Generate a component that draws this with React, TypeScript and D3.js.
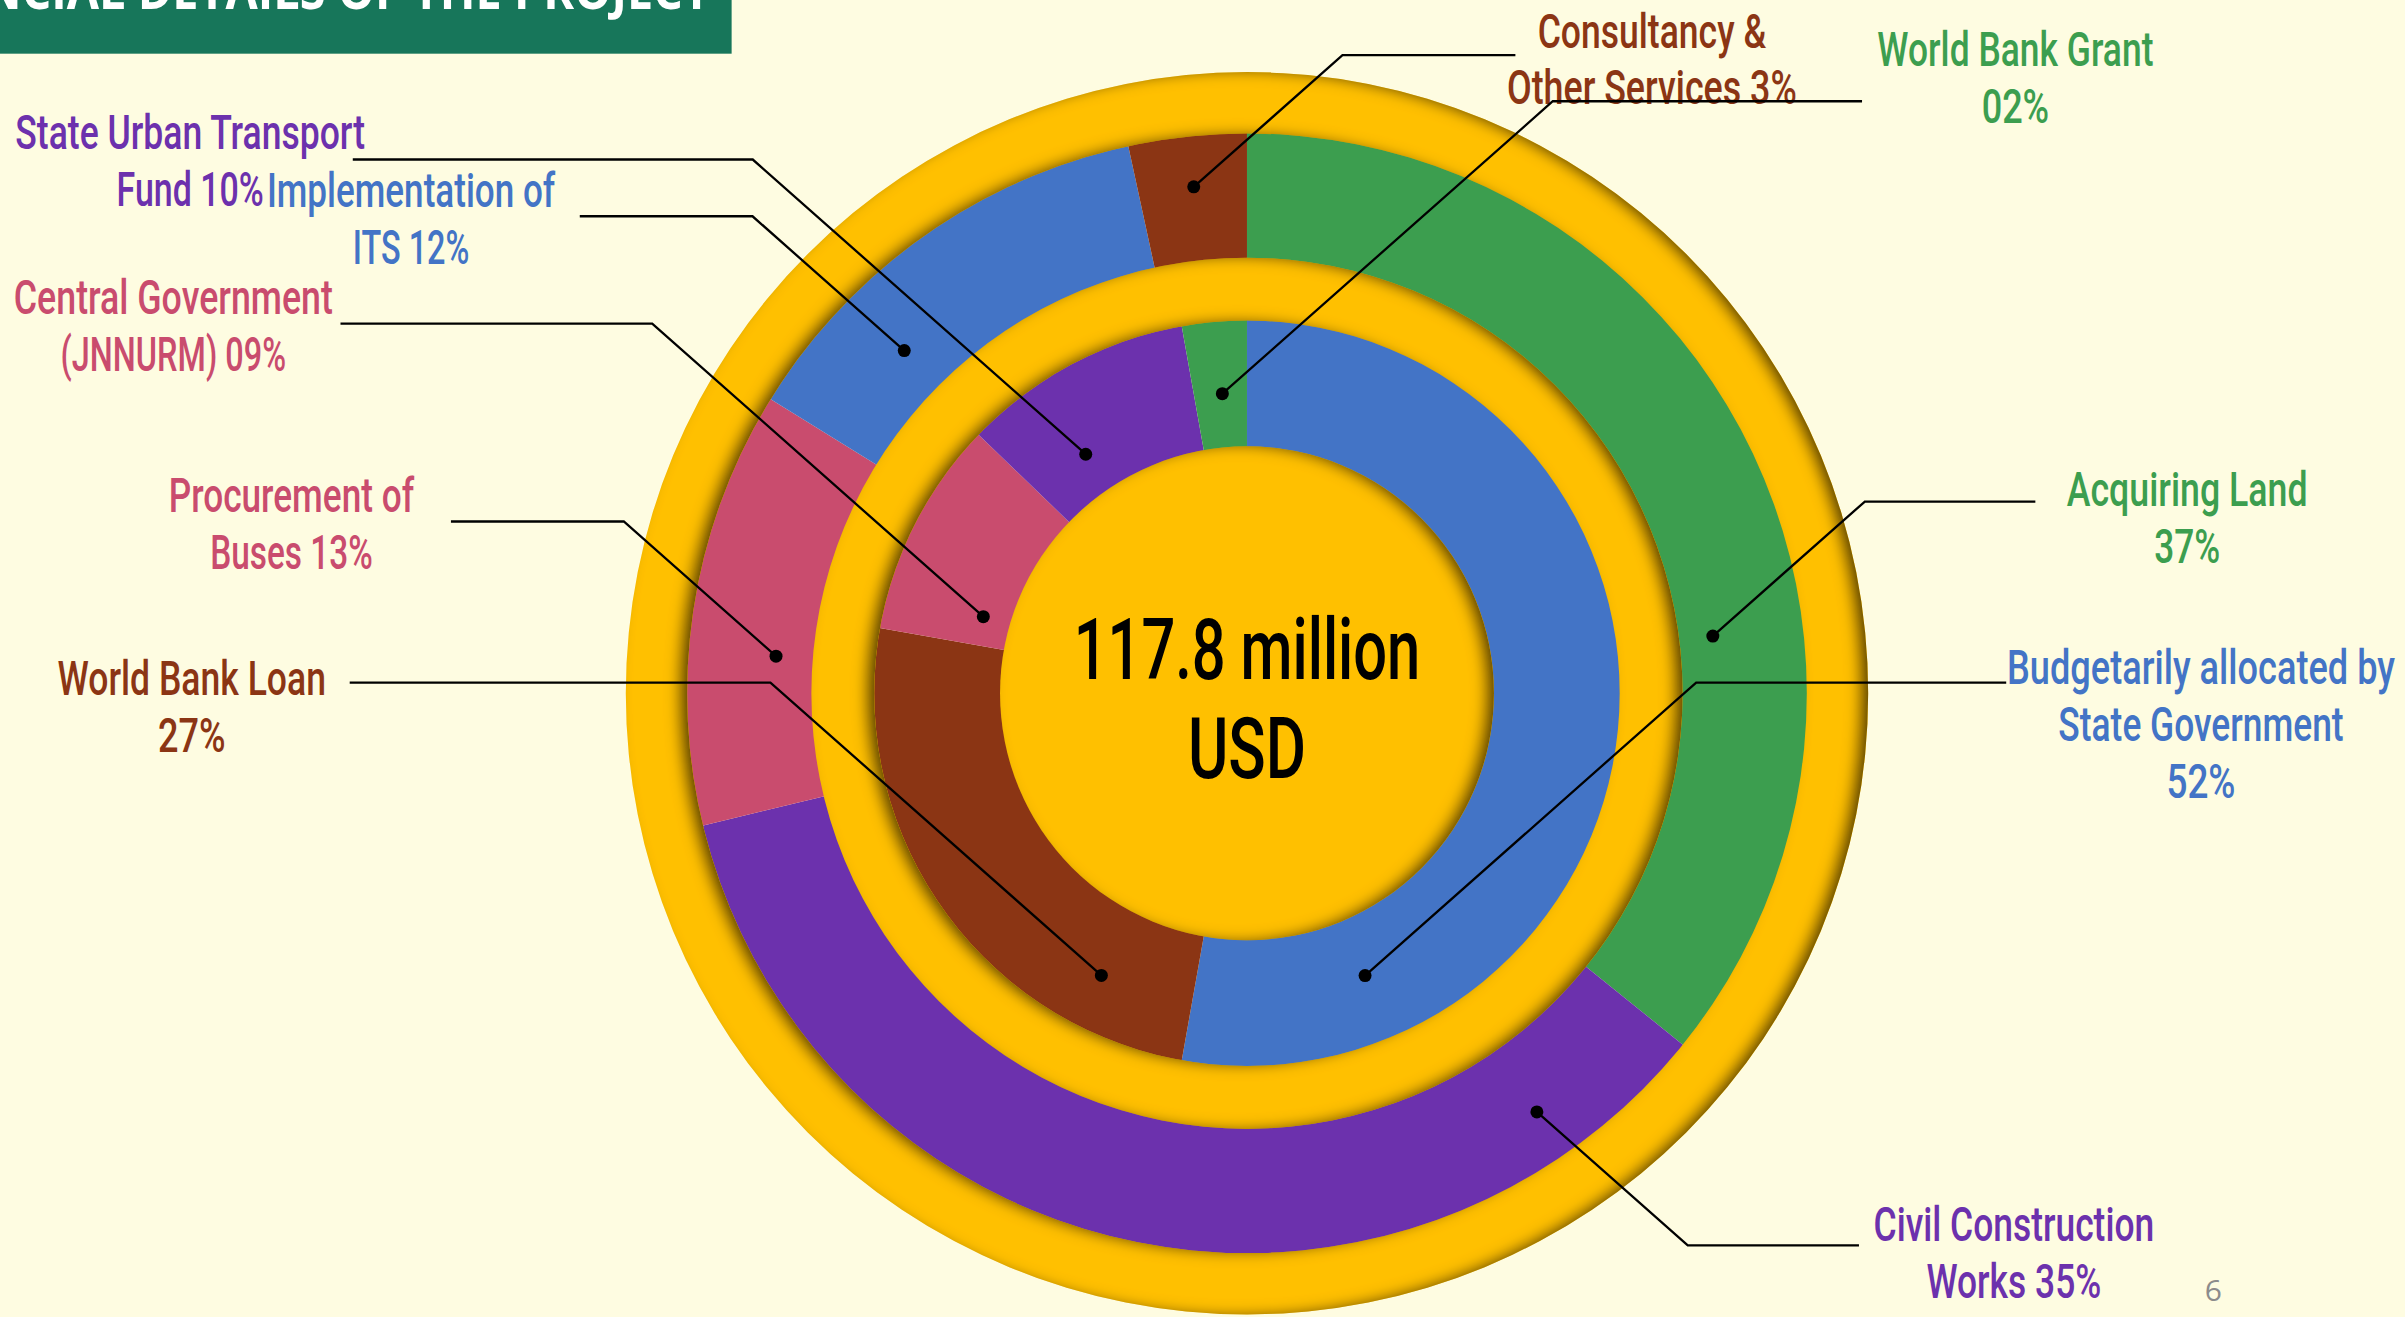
import React from "react";
import * as d3 from "d3";

// ---------- DATA ----------
// Outer ring: uses of the funds (shares)
const useCategories = [
  "Acquiring Land",
  "Civil Construction Works",
  "Procurement of Buses",
  "Implementation of ITS",
  "Consultancy & Other Services",
];
const useShares = [35.8, 35.4, 12.6, 12.8, 3.4];
const usePercentLabels = ["37%", "35%", "13%", "12%", "3%"];

// Inner ring: sources of the funds
const sourceCategories = [
  "Budgetarily allocated by State Government",
  "World Bank Loan",
  "Central Government (JNNURM)",
  "State Urban Transport Fund",
  "World Bank Grant",
];
const sourceShares = [52.8, 25.0, 9.4, 10.0, 2.8];
const sourcePercentLabels = ["52%", "27%", "09%", "10%", "02%"];

const totalLines = ["117.8 million", "USD"];
const headerTitle = "FINANCIAL DETAILS OF THE PROJECT";
const pageNumber = "6";

// ---------- STYLE ----------
const GREEN = "#3C9E4F";
const PURPLE = "#6C31AD";
const PINK = "#C94C6E";
const BLUE = "#4374C6";
const BROWN = "#8B3514";
const GOLD = "#FFC000";
const useColors = [GREEN, PURPLE, PINK, BLUE, BROWN];
const sourceColors = [BLUE, BROWN, PINK, PURPLE, GREEN];
const BG = "#FEFCE1";

const W = 2405;
const H = 1317;
const k = 2405 / 1568; // layout measured on the preview, scaled to the page

type Ann = {
  ring: "use" | "src";
  idx: number;
  angle: number;
  r: number;
  lineY: number;
  endX: number;
  tx: number;
  b0: number;
  words: number[];
  widths: number[];
};
const annotations: Ann[] = [
  { ring: "use", idx: 4, angle: 354, r: 332, lineY: 36, endX: 988, tx: 1077, b0: 31, words: [2, 3], widths: [149, 189] },
  { ring: "src", idx: 4, angle: 355.3, r: 196, lineY: 66, endX: 1214, tx: 1314, b0: 43, words: [3, 1], widths: [180, 44] },
  { ring: "src", idx: 3, angle: 326, r: 188, lineY: 104, endX: 230, tx: 124, b0: 97, words: [3, 2], widths: [228, 96] },
  { ring: "use", idx: 3, angle: 315, r: 316, lineY: 141, endX: 378, tx: 268, b0: 135, words: [2, 2], widths: [188, 76] },
  { ring: "src", idx: 2, angle: 286.2, r: 179, lineY: 211, endX: 222, tx: 113, b0: 205, words: [2, 2], widths: [208, 147] },
  { ring: "use", idx: 2, angle: 274.5, r: 308, lineY: 340, endX: 294, tx: 190, b0: 334, words: [2, 2], widths: [160, 106] },
  { ring: "src", idx: 1, angle: 207.3, r: 207, lineY: 445, endX: 228, tx: 125, b0: 453, words: [3, 1], widths: [175, 44] },
  { ring: "use", idx: 0, angle: 83, r: 306, lineY: 327, endX: 1327, tx: 1426, b0: 330, words: [2, 1], widths: [157, 43] },
  { ring: "src", idx: 0, angle: 157.3, r: 199.5, lineY: 445, endX: 1308, tx: 1435, b0: 446, words: [3, 2, 1], widths: [253, 186, 45] },
  { ring: "use", idx: 1, angle: 145.3, r: 332, lineY: 812, endX: 1212, tx: 1313, b0: 809, words: [2, 2], widths: [183, 114] },
];
const SLOPE = 0.885;
const LINE_GAP = 37;

function splitWords(text: string, counts: number[]): string[] {
  const w = text.split(" ");
  const out: string[] = [];
  let i = 0;
  for (const c of counts) {
    out.push(w.slice(i, i + c).join(" "));
    i += c;
  }
  return out;
}

export default function App() {
  React.useEffect(() => {
    document.body.style.margin = "0";
    document.body.style.background = BG;
  }, []);

  const cx = 813 * k;
  const cy = 452 * k;
  const R_OUTER_GOLD = 405 * k;
  const R_USE_OUT = 365 * k;
  const R_MID_GOLD = 284 * k;
  const R_SRC_OUT = 243 * k;
  const R_INNER_GOLD = 161 * k;

  const pie = d3.pie<number>().value((d) => d).sort(null);
  const useArcs = pie(useShares);
  const srcArcs = pie(sourceShares);
  const useArc = d3.arc<d3.PieArcDatum<number>>().innerRadius(R_MID_GOLD - 6).outerRadius(R_USE_OUT + 6);
  const srcArc = d3.arc<d3.PieArcDatum<number>>().innerRadius(R_INNER_GOLD - 6).outerRadius(R_SRC_OUT + 6);
  const ring = d3.arc<any>().startAngle(0).endAngle(2 * Math.PI);
  const outerGold = ring({ innerRadius: R_USE_OUT, outerRadius: R_OUTER_GOLD }) || "";
  const midGold = ring({ innerRadius: R_SRC_OUT, outerRadius: R_MID_GOLD }) || "";

  const font = "Roboto, 'DejaVu Sans Condensed', sans-serif";

  return (
    <svg width={W} height={H} style={{ position: "absolute", left: 0, top: 0, display: "block" }}>
      <defs>
        <filter id="inset" x="-5%" y="-5%" width="110%" height="110%">
          <feOffset in="SourceAlpha" dx="-9" dy="0" result="off" />
          <feGaussianBlur in="off" stdDeviation="7" result="blur" />
          <feComposite in="SourceAlpha" in2="blur" operator="out" result="edge" />
          <feFlood floodColor="#4A3500" floodOpacity="0.95" result="col" />
          <feComposite in="col" in2="edge" operator="in" result="shadow" />
          <feMerge>
            <feMergeNode in="SourceGraphic" />
            <feMergeNode in="shadow" />
          </feMerge>
        </filter>
      </defs>

      <rect x={0} y={0} width={W} height={H} fill={BG} />

      {/* header band */}
      <rect x={0} y={0} width={477 * k} height={35 * k} fill="#17765A" />
      <text
        x={-128}
        y={9}
        fill="#FFFFFF"
        fontFamily="'Open Sans', sans-serif"
        fontWeight={700}
        fontSize={54}
        textLength={838}
        lengthAdjust="spacingAndGlyphs"
      >
        {headerTitle}
      </text>

      <g transform={`translate(${cx},${cy})`}>
        {useArcs.map((a, i) => (
          <path key={"u" + i} d={useArc(a) || ""} fill={useColors[i]} />
        ))}
        {srcArcs.map((a, i) => (
          <path key={"s" + i} d={srcArc(a) || ""} fill={sourceColors[i]} />
        ))}
        <path d={outerGold} fill={GOLD} filter="url(#inset)" />
        <path d={midGold} fill={GOLD} filter="url(#inset)" />
        <circle r={R_INNER_GOLD} fill={GOLD} filter="url(#inset)" />
      </g>

      {/* centre total */}
      <text x={cx} y={443 * k} textAnchor="middle" fontFamily={font} fontWeight={500} fontSize={86}
        textLength={226 * k} lengthAdjust="spacingAndGlyphs" fill="#000">
        {totalLines[0]}
      </text>
      <text x={cx} y={507 * k} textAnchor="middle" fontFamily={font} fontWeight={500} fontSize={86}
        textLength={77 * k} lengthAdjust="spacingAndGlyphs" fill="#000">
        {totalLines[1]}
      </text>

      {/* leader lines and labels */}
      {annotations.map((a, j) => {
        const colors = a.ring === "use" ? useColors : sourceColors;
        const cats = a.ring === "use" ? useCategories : sourceCategories;
        const pcts = a.ring === "use" ? usePercentLabels : sourcePercentLabels;
        const ang = (a.angle * Math.PI) / 180;
        const [px, py] = d3.pointRadial(ang, a.r * k);
        const dx0 = cx + px;
        const dy0 = cy + py;
        const ly = a.lineY * k;
        const side = a.endX * k > dx0 ? 1 : -1;
        const ex = dx0 + (side * Math.abs(ly - dy0)) / SLOPE;
        const lines = splitWords(`${cats[a.idx]} ${pcts[a.idx]}`, a.words);
        const color = colors[a.idx];
        return (
          <g key={"a" + j}>
            <polyline points={`${dx0},${dy0} ${ex},${ly} ${a.endX * k},${ly}`} fill="none" stroke="#000" strokeWidth={2.3} />
            <circle cx={dx0} cy={dy0} r={6.5} fill="#000" />
            {lines.map((t, li) => (
              <text
                key={li}
                x={a.tx * k}
                y={(a.b0 + li * LINE_GAP) * k}
                textAnchor="middle"
                fontFamily={font}
                fontWeight={500}
                fontSize={48}
                fill={color}
                textLength={a.widths[li] * k}
                lengthAdjust="spacingAndGlyphs"
              >
                {t}
              </text>
            ))}
          </g>
        );
      })}

      <text x={1443 * k} y={848 * k} textAnchor="middle" fontFamily="'Open Sans', sans-serif" fontSize={30} fill="#8C8C8C">
        {pageNumber}
      </text>
    </svg>
  );
}
